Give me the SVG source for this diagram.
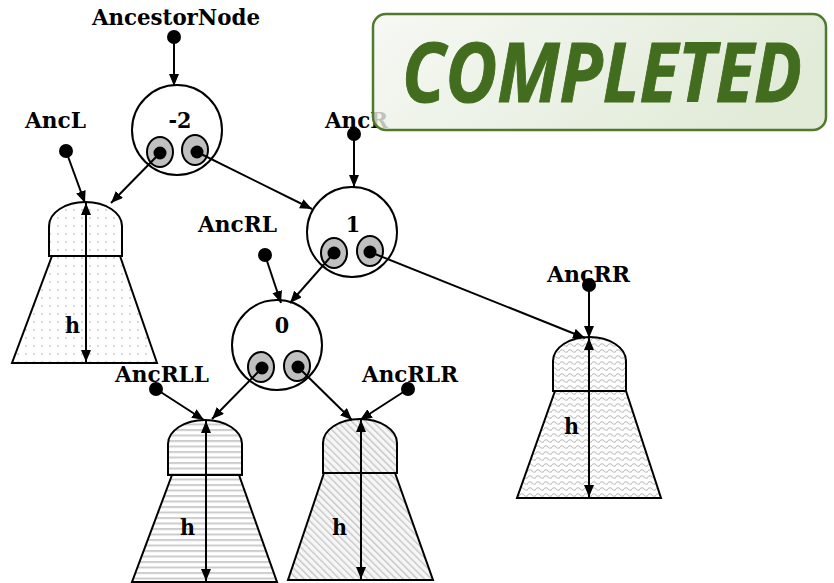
<svg xmlns="http://www.w3.org/2000/svg" width="834" height="583" viewBox="0 0 834 583">
<style>
.lbl{font-family:"DejaVu Serif",serif;font-weight:bold;font-stretch:condensed;font-size:23px;fill:#000}
.num{font-family:"DejaVu Serif",serif;font-weight:bold;font-stretch:condensed;font-size:23px;fill:#000;text-anchor:middle}
.edge{stroke:#000;stroke-width:2;fill:none;marker-end:url(#ah)}
.harrow{stroke:#000;stroke-width:2;fill:none;marker-end:url(#ah);marker-start:url(#ahs)}
.tree{stroke:#000;stroke-width:2}
.big{fill:#fff;stroke:#000;stroke-width:2}
.ptr{fill:#c0c0c0;stroke:#000;stroke-width:2}
.dot{fill:#000}
</style>
<defs>
<marker id="ah" markerUnits="userSpaceOnUse" markerWidth="13" markerHeight="11" refX="12" refY="5" orient="auto">
<path d="M0,0 L12,5 L0,10 z" fill="#000"/>
</marker>
<marker id="ahs" markerUnits="userSpaceOnUse" markerWidth="13" markerHeight="11" refX="0" refY="5" orient="auto">
<path d="M12,0 L0,5 L12,10 z" fill="#000"/>
</marker>
<pattern id="pDots" patternUnits="userSpaceOnUse" width="8" height="8">
<rect width="8" height="8" fill="#fff"/>
<circle cx="2" cy="2" r="0.9" fill="#c4c4c4"/>
</pattern>
<pattern id="pH" patternUnits="userSpaceOnUse" width="8" height="5.5">
<rect width="8" height="5.5" fill="#fff"/>
<rect y="0" width="8" height="2" fill="#cdcdcd"/>
</pattern>
<pattern id="pD" patternUnits="userSpaceOnUse" width="5" height="5" patternTransform="rotate(-45)">
<rect width="5" height="5" fill="#f6f6f6"/>
<rect width="1.3" height="5" fill="#c4c4c4"/>
</pattern>
<pattern id="pW" patternUnits="userSpaceOnUse" width="8" height="6">
<rect width="8" height="6" fill="#fff"/>
<path d="M0,3 Q2,0.5 4,3 T8,3" stroke="#c0c0c0" stroke-width="1.2" fill="none"/>
</pattern>
<linearGradient id="gBox" x1="0" y1="0" x2="1" y2="0.3">
<stop offset="0" stop-color="#f4f7f1"/>
<stop offset="1" stop-color="#dae6cf"/>
</linearGradient>
</defs>

<g id="tree-AncL">
<path class="tree" fill="url(#pDots)" d="M52,256 L120,256 L157,363 L12,363 Z"/>
<path class="tree" fill="url(#pDots)" d="M49,256 L49,226 A36.5,24 0 0 1 122,226 L122,256 Z"/>
<line class="harrow" x1="86" y1="203" x2="86" y2="362"/>
<text class="lbl" x="65" y="333">h</text>
</g>
<g id="tree-AncRR">
<path class="tree" fill="url(#pW)" d="M555,391 L626,391 L661,498 L517,498 Z"/>
<path class="tree" fill="url(#pW)" d="M553,391 L553,361 A36.5,24 0 0 1 626,361 L626,391 Z"/>
<line class="harrow" x1="589" y1="338" x2="589" y2="497"/>
<text class="lbl" x="564" y="434">h</text>
</g>
<g id="tree-AncRLL">
<path class="tree" fill="url(#pH)" d="M172,475 L239,475 L277,582 L132,582 Z"/>
<path class="tree" fill="url(#pH)" d="M168,475 L168,444 A37,24 0 0 1 242,444 L242,475 Z"/>
<line class="harrow" x1="206" y1="421" x2="206" y2="581"/>
<text class="lbl" x="180" y="535">h</text>
</g>
<g id="tree-AncRLR">
<path class="tree" fill="url(#pD)" d="M324,473 L395,473 L433,580 L288,580 Z"/>
<path class="tree" fill="url(#pD)" d="M323,473 L323,443 A37,24 0 0 1 397,443 L397,473 Z"/>
<line class="harrow" x1="361" y1="420" x2="361" y2="579"/>
<text class="lbl" x="332" y="535">h</text>
</g>

<g id="node-m2">
<circle class="big" cx="177" cy="130" r="45"/>
<text class="num" x="180" y="128">-2</text>
<ellipse class="ptr" cx="160" cy="152" rx="13" ry="15"/>
<ellipse class="ptr" cx="195" cy="150" rx="13" ry="15"/>
</g>
<g id="node-1">
<circle class="big" cx="352" cy="232" r="45"/>
<text class="num" x="353" y="232">1</text>
<ellipse class="ptr" cx="334" cy="253" rx="13" ry="15"/>
<ellipse class="ptr" cx="370" cy="251" rx="13" ry="15"/>
</g>
<g id="node-0">
<circle class="big" cx="277" cy="345" r="45"/>
<text class="num" x="282" y="333">0</text>
<ellipse class="ptr" cx="261" cy="367" rx="13" ry="15"/>
<ellipse class="ptr" cx="297" cy="366" rx="13" ry="15"/>
</g>

<g id="labels">
<text class="lbl" x="92" y="25" textLength="168" lengthAdjust="spacingAndGlyphs">AncestorNode</text>
<text class="lbl" x="25" y="128" textLength="61" lengthAdjust="spacingAndGlyphs">AncL</text>
<text class="lbl" x="325" y="128" textLength="63" lengthAdjust="spacingAndGlyphs">AncR</text>
<text class="lbl" x="198" y="232" textLength="79" lengthAdjust="spacingAndGlyphs">AncRL</text>
<text class="lbl" x="547" y="282" textLength="83" lengthAdjust="spacingAndGlyphs">AncRR</text>
<text class="lbl" x="115" y="382" textLength="94" lengthAdjust="spacingAndGlyphs">AncRLL</text>
<text class="lbl" x="362" y="382" textLength="96" lengthAdjust="spacingAndGlyphs">AncRLR</text>
</g>

<g id="connectors">
<line class="edge" x1="174" y1="37" x2="174" y2="86"/>
<line class="edge" x1="66" y1="151" x2="85" y2="203"/>
<line class="edge" x1="160" y1="153" x2="111" y2="203"/>
<line class="edge" x1="197" y1="152" x2="312" y2="209"/>
<line class="edge" x1="354" y1="134" x2="354" y2="187"/>
<line class="edge" x1="265" y1="255" x2="281" y2="303"/>
<line class="edge" x1="334" y1="253" x2="290" y2="303"/>
<line class="edge" x1="370" y1="252" x2="585" y2="338"/>
<line class="edge" x1="589" y1="285" x2="589" y2="338"/>
<line class="edge" x1="156" y1="389" x2="204" y2="420"/>
<line class="edge" x1="262" y1="368" x2="212" y2="419"/>
<line class="edge" x1="298" y1="367" x2="352" y2="420"/>
<line class="edge" x1="408" y1="389" x2="360" y2="420"/>
<circle class="dot" cx="174" cy="37" r="7"/>
<circle class="dot" cx="66" cy="151" r="7"/>
<circle class="dot" cx="354" cy="134" r="7"/>
<circle class="dot" cx="265" cy="255" r="7"/>
<circle class="dot" cx="589" cy="285" r="7"/>
<circle class="dot" cx="156" cy="389" r="7"/>
<circle class="dot" cx="408" cy="389" r="7"/>
<circle class="dot" cx="160" cy="153" r="6.5"/>
<circle class="dot" cx="197" cy="152" r="6.5"/>
<circle class="dot" cx="334" cy="253" r="6.5"/>
<circle class="dot" cx="370" cy="252" r="6.5"/>
<circle class="dot" cx="262" cy="368" r="6.5"/>
<circle class="dot" cx="298" cy="367" r="6.5"/>
</g>

<g id="stamp">
<rect x="373" y="14" width="453" height="116" rx="13" ry="13" fill="url(#gBox)" fill-opacity="0.8" stroke="#4f7a2c" stroke-width="2.5"/>
<text x="402" y="102" textLength="400" lengthAdjust="spacingAndGlyphs" style="font-family:'Open Sans',sans-serif;font-weight:bold;font-style:italic;font-size:82px;fill:#436d1e;stroke:#436d1e;stroke-width:1">COMPLETED</text>
</g>
</svg>
